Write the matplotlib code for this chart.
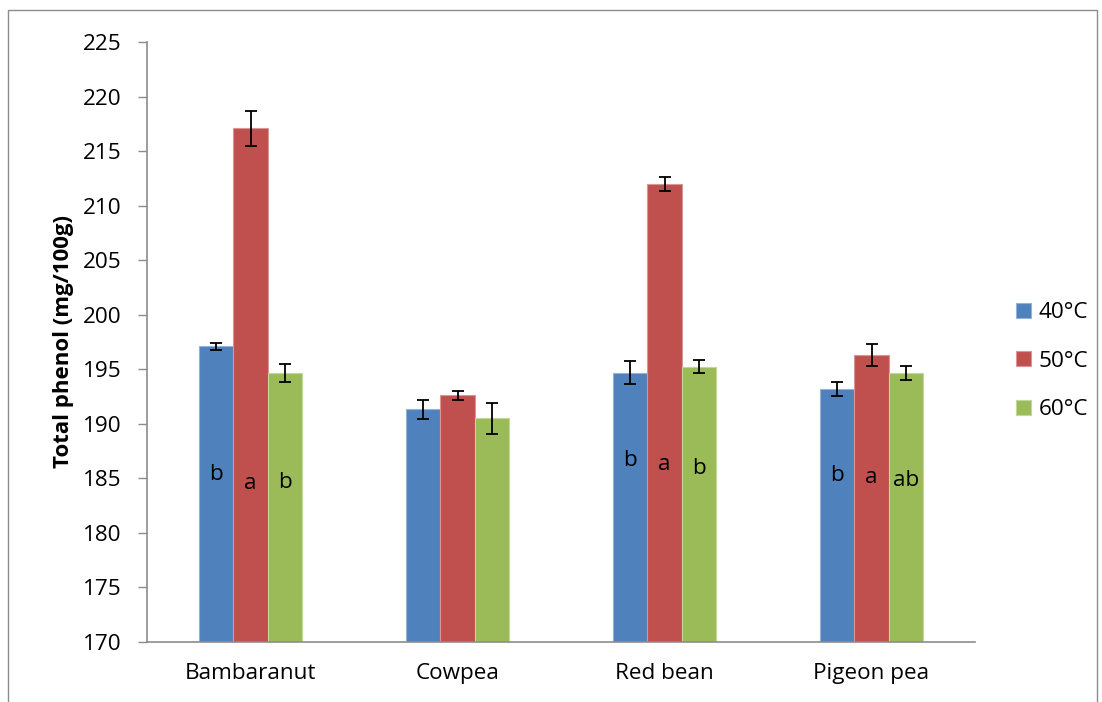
import matplotlib
matplotlib.use("Agg")
import matplotlib.pyplot as plt
import numpy as np
from matplotlib.patches import Rectangle

categories = ["Bambaranut", "Cowpea", "Red bean", "Pigeon pea"]
series_names = ["40°C", "50°C", "60°C"]
vals_40 = [197.1, 191.35, 194.7, 193.2]
vals_50 = [217.1, 192.6, 212.0, 196.3]
vals_60 = [194.65, 190.5, 195.25, 194.65]
err_40 = [0.35, 0.87, 1.04, 0.67]
err_50 = [1.6, 0.4, 0.66, 0.98]
err_60 = [0.8, 1.4, 0.58, 0.67]
letters_40 = ["b", "", "b", "b"]
letters_50 = ["a", "", "a", "a"]
letters_60 = ["b", "", "b", "ab"]
letter_y_40 = [185.4, None, 186.6, 185.3]
letter_y_50 = [184.5, None, 186.3, 185.1]
letter_y_60 = [184.6, None, 185.9, 184.85]
yticks = list(range(170, 226, 5))

colors = ["#4F81BD", "#C0504D", "#9BBB59"]
edge = ["#95B3D7", "#D99694", "#C3D69B"]

plt.rcParams['font.family'] = ['Open Sans', 'DejaVu Sans']
FS = 16.2

W, H = 1102, 702
fig = plt.figure(figsize=(W / 100, H / 100), dpi=100)
ax = fig.add_axes([147 / W, 1 - 642 / H, (975 - 147) / W, (642 - 42) / H])

# outer chart border
fig.patches.append(Rectangle((8 / W, -0.05), (1097 - 8) / W, 1.05 - 10 / H,
                             transform=fig.transFigure, fill=False,
                             edgecolor="#8c8c8c", linewidth=1.0))

x = np.arange(len(categories))
bw = 1 / 6
all_vals = [vals_40, vals_50, vals_60]
all_err = [err_40, err_50, err_60]
all_letters = [letters_40, letters_50, letters_60]
all_ly = [letter_y_40, letter_y_50, letter_y_60]
for i in range(3):
    pos = x + (i - 1) * bw
    ax.bar(pos, np.array(all_vals[i]) - 170, bottom=170, width=bw,
           color=colors[i], edgecolor=edge[i], linewidth=0.8,
           label=series_names[i], zorder=2)
    ax.errorbar(pos, all_vals[i], yerr=all_err[i], fmt='none', ecolor='black',
                elinewidth=1.3, capsize=4, capthick=1.3, zorder=3)
    for p, t, ly in zip(pos, all_letters[i], all_ly[i]):
        if t:
            ax.text(p, ly, t, ha='center', va='center', fontsize=FS,
                    color='black', zorder=4)

ax.set_xlim(-0.5, len(categories) - 0.5)
ax.set_ylim(170, 225)
ax.set_yticks(yticks)
ax.set_xticks(x)
ax.set_xticklabels(categories, fontsize=FS)
ax.tick_params(axis='x', length=0, pad=15)
ax.tick_params(axis='y', labelsize=FS, length=6.5, width=1, color="#8c8c8c",
               direction='out', pad=12)
for s in ['top', 'right']:
    ax.spines[s].set_visible(False)
for s in ['left', 'bottom']:
    ax.spines[s].set_color("#8c8c8c")
    ax.spines[s].set_linewidth(1.2)

ax.set_ylabel("Total phenol (mg/100g)", fontsize=16, fontweight='bold', labelpad=6)

leg = ax.legend(loc='center left', bbox_to_anchor=(1.039, 0.468), frameon=False,
                fontsize=FS, handlelength=0.65, handleheight=0.65,
                labelspacing=1.22, handletextpad=0.35, borderaxespad=0)

fig.savefig("out.png", dpi=100)
